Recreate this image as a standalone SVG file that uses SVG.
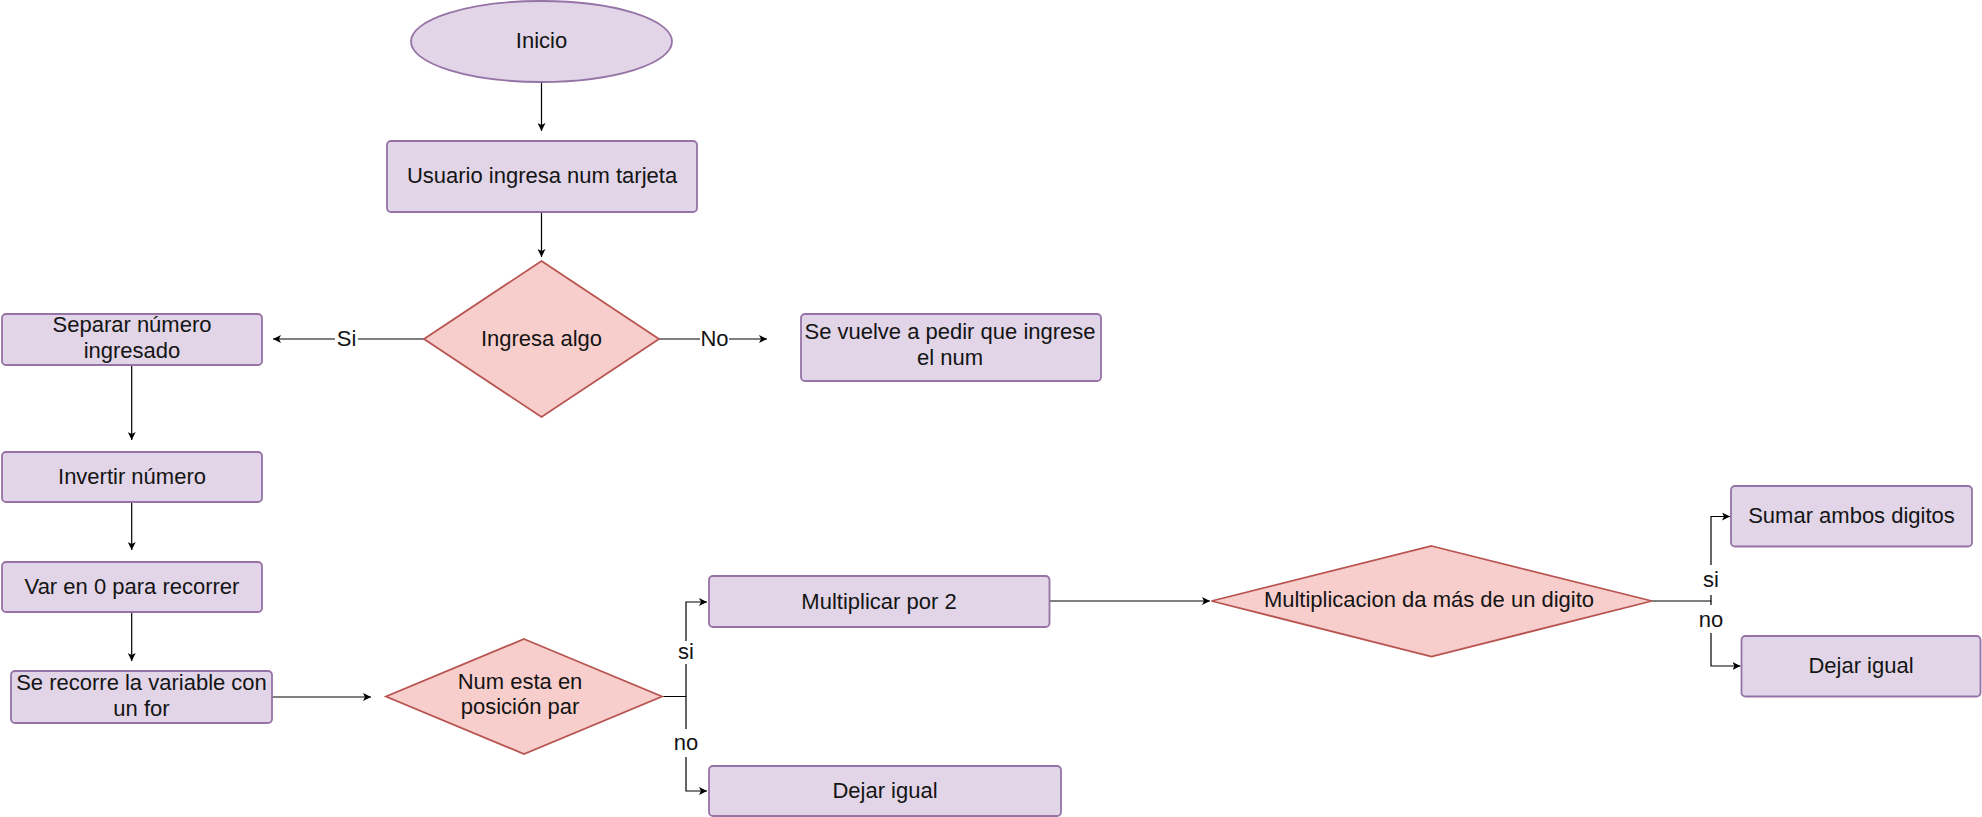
<svg xmlns="http://www.w3.org/2000/svg" width="1982" height="817" viewBox="0 0 1982 817">
<style>
.p{fill:#e1d5e7;stroke:#9673a6;stroke-width:1.8}
.d{fill:#f8cecc;stroke:#b85450;stroke-width:1.8}
.t{font-family:"Liberation Sans",Arial,sans-serif;font-size:22px;fill:#141414;text-anchor:middle}
.c{fill:none;stroke:#000;stroke-width:1.2}
.lb{fill:#fff}
</style>
<defs>
<marker id="a" viewBox="0 0 8 8" markerWidth="8" markerHeight="8" refX="8" refY="4" orient="auto" markerUnits="userSpaceOnUse">
<path d="M0,0 L8,4 L0,8 L2,4 Z" fill="#000"/>
</marker>
</defs>
<rect width="1982" height="817" fill="#fff"/>
<g id="connectors">
<line class="c" x1="541.5" y1="82" x2="541.5" y2="131" marker-end="url(#a)"/>
<line class="c" x1="541.5" y1="212" x2="541.5" y2="257" marker-end="url(#a)"/>
<line class="c" x1="424" y1="339" x2="273" y2="339" marker-end="url(#a)"/>
<line class="c" x1="659" y1="339" x2="767" y2="339" marker-end="url(#a)"/>
<line class="c" x1="131.7" y1="365" x2="131.7" y2="440" marker-end="url(#a)"/>
<line class="c" x1="131.7" y1="502" x2="131.7" y2="550" marker-end="url(#a)"/>
<line class="c" x1="131.7" y1="612" x2="131.7" y2="661" marker-end="url(#a)"/>
<line class="c" x1="272" y1="697" x2="371" y2="697" marker-end="url(#a)"/>
<polyline class="c" points="662,696.5 686,696.5 686,602 707,602" marker-end="url(#a)"/>
<polyline class="c" points="686,696.5 686,791 707,791" marker-end="url(#a)"/>
<line class="c" x1="1049.5" y1="601" x2="1210" y2="601" marker-end="url(#a)"/>
<polyline class="c" points="1652,601 1711,601 1711,516.5 1730,516.5" marker-end="url(#a)"/>
<polyline class="c" points="1711,601 1711,666 1740.5,666" marker-end="url(#a)"/>
<rect class="lb" x="335" y="327" width="23" height="24"/>
<text class="t" x="346.5" y="346">Si</text>
<rect class="lb" x="700" y="327" width="29" height="24"/>
<text class="t" x="714.5" y="346">No</text>
<rect class="lb" x="676" y="641" width="20" height="23"/>
<text class="t" x="686" y="659">si</text>
<rect class="lb" x="674" y="729" width="24" height="28"/>
<text class="t" x="686" y="750">no</text>
<rect class="lb" x="1701" y="565" width="20" height="30"/>
<text class="t" x="1711" y="587">si</text>
<rect class="lb" x="1699" y="605" width="24" height="28"/>
<text class="t" x="1711" y="627">no</text>
</g>
<g id="inicio">
<ellipse class="p" cx="541.5" cy="41.5" rx="130.5" ry="40.5"/>
<text class="t" x="541.5" y="48">Inicio</text>
</g>
<g id="usuario">
<rect class="p" x="387" y="141" width="310" height="71" rx="4"/>
<text class="t" x="542" y="183">Usuario ingresa num tarjeta</text>
</g>
<g id="ingresa-algo">
<polygon class="d" points="541.5,261 659,339 541.5,417 424,339"/>
<text class="t" x="541.5" y="346">Ingresa algo</text>
</g>
<g id="se-vuelve">
<rect class="p" x="801" y="314" width="300" height="67" rx="4"/>
<text class="t" x="950" y="339">Se vuelve a pedir que ingrese</text>
<text class="t" x="950" y="365">el num</text>
</g>
<g id="separar">
<rect class="p" x="2" y="314" width="260" height="51" rx="4"/>
<text class="t" x="132" y="332">Separar número</text>
<text class="t" x="132" y="358">ingresado</text>
</g>
<g id="invertir">
<rect class="p" x="2" y="452" width="260" height="50" rx="4"/>
<text class="t" x="132" y="484">Invertir número</text>
</g>
<g id="var">
<rect class="p" x="2" y="562" width="260" height="50" rx="4"/>
<text class="t" x="132" y="594">Var en 0 para recorrer</text>
</g>
<g id="recorre">
<rect class="p" x="11" y="671" width="261" height="52" rx="4"/>
<text class="t" x="141.5" y="690">Se recorre la variable con</text>
<text class="t" x="141.5" y="716">un for</text>
</g>
<g id="num-par">
<polygon class="d" points="524,639 662,696.5 524,754 386,696.5"/>
<text class="t" x="520" y="689">Num esta en</text>
<text class="t" x="520" y="714">posición par</text>
</g>
<g id="multiplicar">
<rect class="p" x="709" y="576" width="340.5" height="51" rx="4"/>
<text class="t" x="879" y="608.5">Multiplicar por 2</text>
</g>
<g id="dejar1">
<rect class="p" x="709" y="766" width="352" height="50" rx="4"/>
<text class="t" x="885" y="798">Dejar igual</text>
</g>
<g id="mas-digito">
<polygon class="d" points="1431.5,546 1652,601 1431.5,656.5 1211.5,601"/>
<text class="t" x="1429" y="607">Multiplicacion da más de un digito</text>
</g>
<g id="sumar">
<rect class="p" x="1731" y="486" width="241" height="60.5" rx="4"/>
<text class="t" x="1851.5" y="523">Sumar ambos digitos</text>
</g>
<g id="dejar2">
<rect class="p" x="1741.5" y="636" width="239" height="60.5" rx="4"/>
<text class="t" x="1861" y="673">Dejar igual</text>
</g>
</svg>
